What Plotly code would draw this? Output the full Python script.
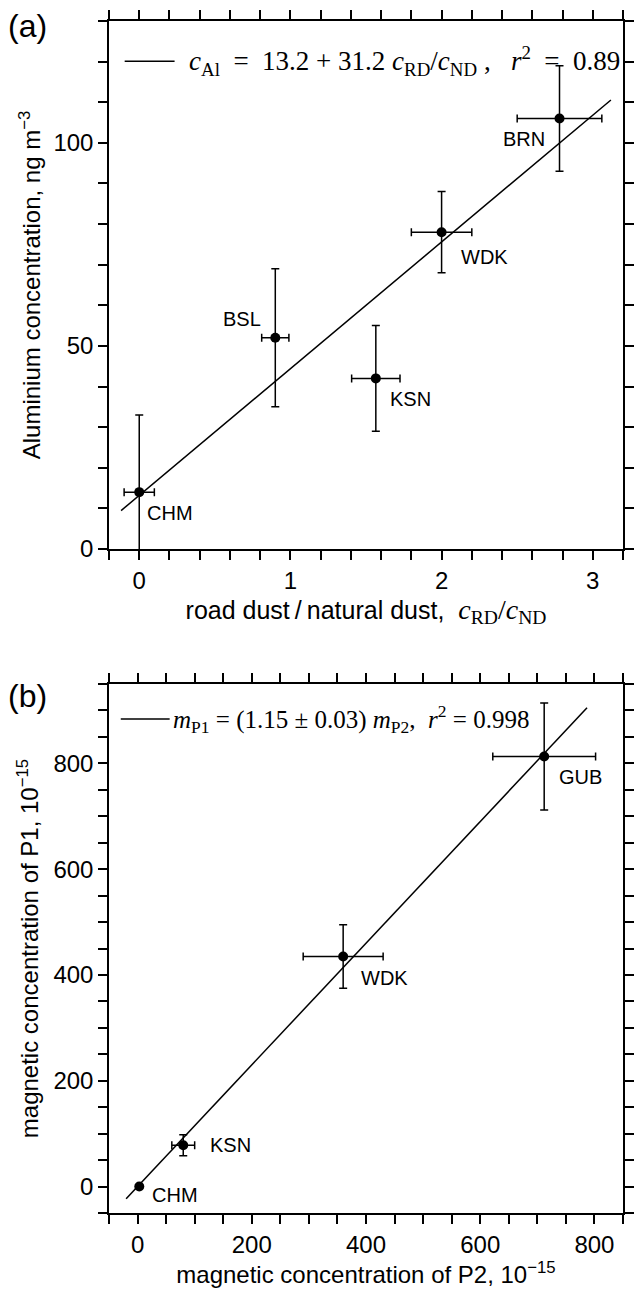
import plotly.graph_objects as go

# ---------------- data: panel (a) ----------------
sites_a = ["CHM", "BSL", "KSN", "WDK", "BRN"]
ratio_a = [0.0, 0.90, 1.565, 2.0, 2.78]
ratio_err_a = [0.10, 0.09, 0.16, 0.20, 0.28]
al_a = [14, 52, 42, 78, 106]
al_err_a = [19, 17, 13, 10, 13]
fit_a_intercept = 13.2
fit_a_slope = 31.2
fit_a_x = [-0.12, 3.12]

# ---------------- data: panel (b) ----------------
sites_b = ["CHM", "KSN", "WDK", "GUB"]
p2_b = [3, 80, 360, 712]
p2_err_b = [0, 20, 70, 90]
p1_b = [0, 78, 435, 813]
p1_err_b = [0, 20, 60, 101]
fit_b_slope = 1.15
fit_b_x = [-20, 787]

# label offsets (px) : (xshift, yshift, xanchor)
lab_a = {"CHM": (6, -21, "left"), "BSL": (-12, 19, "right"), "KSN": (12, -21, "left"),
         "WDK": (17, -25, "left"), "BRN": (-13, -21, "right")}
lab_b = {"CHM": (11, -8, "left"), "KSN": (25, 0, "left"), "WDK": (16, -22, "left"),
         "GUB": (13, -21, "left")}

SANS = "Liberation Sans, Arial, Helvetica, sans-serif"
SERIF = "Liberation Serif, Times New Roman, serif"
BLK = "black"

fig = go.Figure()

# fit lines
fig.add_trace(go.Scatter(x=fit_a_x, y=[fit_a_intercept + fit_a_slope * v for v in fit_a_x],
                         mode="lines", line=dict(color=BLK, width=1.5), xaxis="x", yaxis="y",
                         showlegend=False, hoverinfo="skip"))
fig.add_trace(go.Scatter(x=fit_b_x, y=[fit_b_slope * v for v in fit_b_x],
                         mode="lines", line=dict(color=BLK, width=1.5), xaxis="x2", yaxis="y2",
                         showlegend=False, hoverinfo="skip"))

err_style = dict(type="data", color=BLK, thickness=1.5, width=4, visible=True)

fig.add_trace(go.Scatter(
    x=ratio_a, y=al_a, mode="markers", marker=dict(color=BLK, size=10),
    error_x=dict(array=ratio_err_a, **err_style), error_y=dict(array=al_err_a, **err_style),
    xaxis="x", yaxis="y", showlegend=False, text=sites_a))
fig.add_trace(go.Scatter(
    x=p2_b, y=p1_b, mode="markers", marker=dict(color=BLK, size=10),
    error_x=dict(array=p2_err_b, **err_style), error_y=dict(array=p1_err_b, **err_style),
    xaxis="x2", yaxis="y2", showlegend=False, text=sites_b))

annotations = []
for s, xv, yv in zip(sites_a, ratio_a, al_a):
    dx, dy, anc = lab_a[s]
    annotations.append(dict(x=xv, y=yv, xref="x", yref="y", text=s, showarrow=False,
                            xanchor=anc, yanchor="middle", xshift=dx, yshift=dy,
                            font=dict(family=SANS, size=20, color=BLK)))
for s, xv, yv in zip(sites_b, p2_b, p1_b):
    dx, dy, anc = lab_b[s]
    annotations.append(dict(x=xv, y=yv, xref="x2", yref="y2", text=s, showarrow=False,
                            xanchor=anc, yanchor="middle", xshift=dx, yshift=dy,
                            font=dict(family=SANS, size=20, color=BLK)))

# legends (line sample + equation)
annotations.append(dict(x=0.152, y=0.924, xref="x domain", yref="y domain", showarrow=False,
                        xanchor="left", yanchor="middle",
                        text="<i>c</i><sub>Al</sub>  =  13.2 + 31.2 <i>c</i><sub>RD</sub>/<i>c</i><sub>ND</sub> ,   <i>r</i><sup>2</sup>  =  0.89",
                        font=dict(family=SERIF, size=27, color=BLK)))
annotations.append(dict(x=0.12, y=0.934, xref="x2 domain", yref="y2 domain", showarrow=False,
                        xanchor="left", yanchor="middle",
                        text="<i>m</i><sub>P1</sub> = (1.15 ± 0.03) <i>m</i><sub>P2</sub>,  <i>r</i><sup>2</sup> = 0.998",
                        font=dict(family=SERIF, size=25, color=BLK)))
shapes = [
    dict(type="line", xref="x domain", yref="y domain", x0=0.0305, x1=0.1276, y0=0.924, y1=0.924,
         line=dict(color=BLK, width=1.5)),
    dict(type="line", xref="x2 domain", yref="y2 domain", x0=0.0229, x1=0.118, y0=0.934, y1=0.934,
         line=dict(color=BLK, width=1.5)),
]

# panel letters
annotations.append(dict(x=-0.2, y=0.9958, xref="paper", yref="paper", text="(a)", showarrow=False,
                        xanchor="left", yanchor="middle", font=dict(family=SANS, size=32, color=BLK)))
annotations.append(dict(x=-0.2, y=0.4337, xref="paper", yref="paper", text="(b)", showarrow=False,
                        xanchor="left", yanchor="middle", font=dict(family=SANS, size=32, color=BLK)))

tickfont = dict(family=SANS, size=24, color=BLK)


def ax(rng, dtick, minor_dtick, title, domain, anchor, standoff, tsize=24):
    return dict(range=rng, dtick=dtick, tick0=0, domain=domain, anchor=anchor,
                showline=True, linecolor=BLK, linewidth=1.5, mirror="ticks",
                ticks="outside", ticklen=9, tickwidth=1.5, tickcolor=BLK,
                minor=dict(dtick=minor_dtick, tick0=0, ticks="outside", ticklen=9, tickwidth=1.5,
                           tickcolor=BLK, showgrid=False),
                showgrid=False, zeroline=False, tickfont=tickfont,
                title=dict(text=title, font=dict(family=SANS, size=tsize, color=BLK),
                           standoff=standoff))


x_title_a = ("road dust\u2009/\u2009natural dust,  "
             "<span style=\"font-family:'Liberation Serif',serif;font-size:28px\">"
             "<i>c</i><sub>RD</sub>/<i>c</i><sub>ND</sub></span>")

fig.update_layout(
    width=643, height=1292,
    margin=dict(l=109, r=9, t=21, b=79),
    paper_bgcolor="white", plot_bgcolor="white",
    showlegend=False,
    xaxis=ax([-0.2, 3.2], 1, 0.2, x_title_a, [0, 1], "y", 8, 25),
    yaxis=ax([0, 130], 50, 10, "Aluminium concentration, ng m<sup>−3</sup>",
             [0.55705, 1.0], "x", 6),
    xaxis2=ax([-50, 850], 200, 50, "magnetic concentration of P2, 10<sup>−15</sup>",
              [0, 1], "y2", 8),
    yaxis2=ax([-50, 950], 200, 50, "magnetic concentration of P1, 10<sup>−15</sup>",
              [0.0, 0.44379], "x2", 8),
    annotations=annotations,
    shapes=shapes,
)

fig.write_html("out.html")
